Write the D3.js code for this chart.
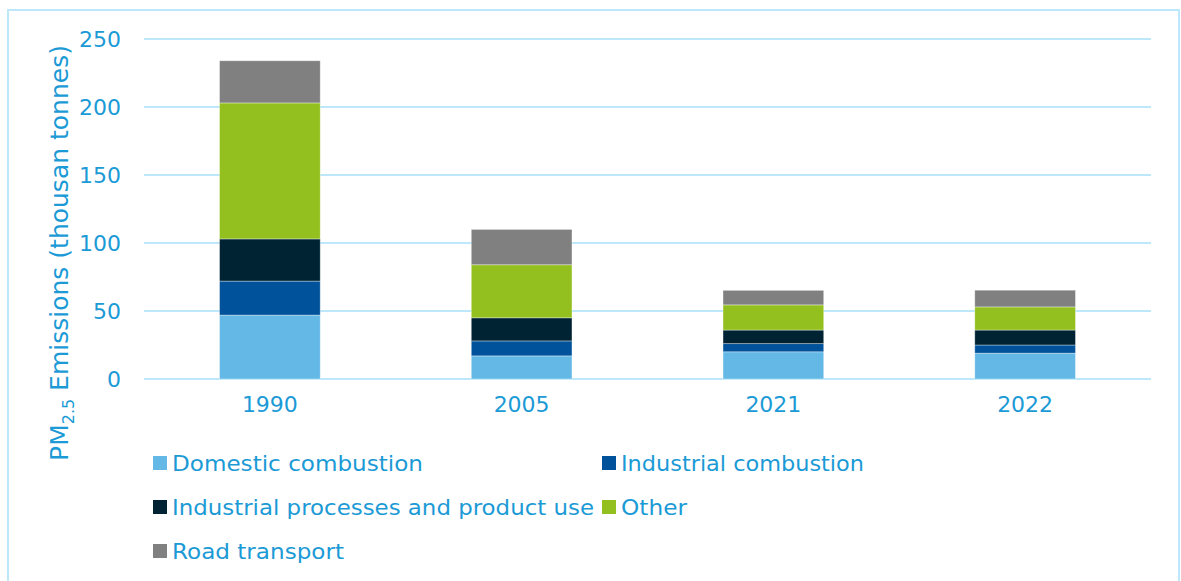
<!DOCTYPE html>
<html>
<head>
<meta charset="utf-8">
<script src="https://cdn.jsdelivr.net/npm/d3@7"></script>
<style>
  html, body { margin: 0; padding: 0; background: #fff; }
  svg { display: block; }
  text { font-family: "DejaVu Sans", sans-serif; }
</style>
</head>
<body>
<svg id="chart" width="1181" height="581"></svg>
<script>
const categories = ["1990", "2005", "2021", "2022"];
const seriesNames = ["Domestic combustion", "Industrial combustion", "Industrial processes and product use", "Other", "Road transport"];
const domestic   = [47, 17, 20, 19];
const industrial = [25, 11, 6, 6];
const processes  = [31, 17, 10, 11];
const other      = [100, 39, 18.5, 17];
const road       = [31, 26, 10.7, 12.3];
const yTicks = [0, 50, 100, 150, 200, 250];
const colors = ["#63b8e6", "#00539b", "#002333", "#93c01f", "#808080"];

const seriesValues = [domestic, industrial, processes, other, road];
const rows = categories.map((c, i) => {
  const r = { year: c };
  seriesNames.forEach((s, j) => r[s] = seriesValues[j][i]);
  return r;
});

const svg = d3.select("#chart");
const textColor = "#1b9ad6";
const gridColor = "#bde8fb";

// outer frame
svg.append("rect").attr("x", 8).attr("y", 10).attr("width", 1171).attr("height", 600)
  .attr("fill", "none").attr("stroke", gridColor).attr("stroke-width", 2);

const x = d3.scaleBand().domain(categories).range([144, 1151]).paddingInner(0.6).paddingOuter(0.3);
const y = d3.scaleLinear().domain([0, 250]).range([379, 39]);

// gridlines
svg.append("g").selectAll("line").data(yTicks).join("line")
  .attr("x1", 144).attr("x2", 1151)
  .attr("y1", d => y(d)).attr("y2", d => y(d))
  .attr("stroke", gridColor).attr("stroke-width", 2);

// y tick labels
const yAxis = d3.axisLeft(y).tickValues(yTicks).tickSize(0).tickPadding(0);
const gy = svg.append("g").attr("transform", "translate(121,0)").call(yAxis);
gy.select(".domain").remove();
gy.selectAll("text").attr("fill", textColor).style("font-size", "22px")
  .style("font-family", "'DejaVu Sans', sans-serif").attr("dy", "0.36em");

// x labels
const xAxis = d3.axisBottom(x).tickSize(0).tickPadding(0);
const gx = svg.append("g").attr("transform", "translate(0,396)").call(xAxis);
gx.select(".domain").remove();
gx.selectAll("text").attr("fill", textColor).style("font-size", "22px")
  .style("font-family", "'DejaVu Sans', sans-serif").attr("dy", "0.71em");

// stacked bars
const stack = d3.stack().keys(seriesNames)(rows);
svg.append("g").selectAll("g").data(stack).join("g")
  .attr("fill", (d, i) => colors[i])
  .selectAll("rect").data(d => d).join("rect")
  .attr("x", d => x(d.data.year))
  .attr("width", x.bandwidth())
  .attr("y", d => y(d[1]))
  .attr("height", d => y(d[0]) - y(d[1]))
  .attr("stroke", "rgba(255,255,255,0.45)").attr("stroke-width", 0.8);

// y title
const title = svg.append("text")
  .attr("transform", "translate(68,253) rotate(-90)")
  .attr("text-anchor", "middle")
  .attr("fill", textColor)
  .style("font-size", "25px");
title.append("tspan").text("PM");
title.append("tspan").text("2.5").style("font-size", "16px").attr("dy", "6");
title.append("tspan").text(" Emissions (thousan tonnes)").attr("dy", "-6");

// legend
const legendPos = [
  { x: 153, y: 463 }, { x: 602, y: 463 },
  { x: 153, y: 507 }, { x: 602, y: 507 },
  { x: 153, y: 551 }
];
const legendTextWidths = [251, 243, 422, 66, 172];
const lg = svg.append("g").selectAll("g").data(seriesNames).join("g")
  .attr("transform", (d, i) => `translate(${legendPos[i].x},${legendPos[i].y})`);
lg.append("rect").attr("x", 0).attr("y", -7).attr("width", 14).attr("height", 14)
  .attr("fill", (d, i) => colors[i]);
lg.append("text").attr("x", 19).attr("y", 0).attr("dy", "0.36em")
  .attr("fill", textColor).style("font-size", "21px")
  .attr("textLength", (d, i) => legendTextWidths[i])
  .attr("lengthAdjust", "spacingAndGlyphs")
  .text(d => d);
</script>
</body>
</html>
